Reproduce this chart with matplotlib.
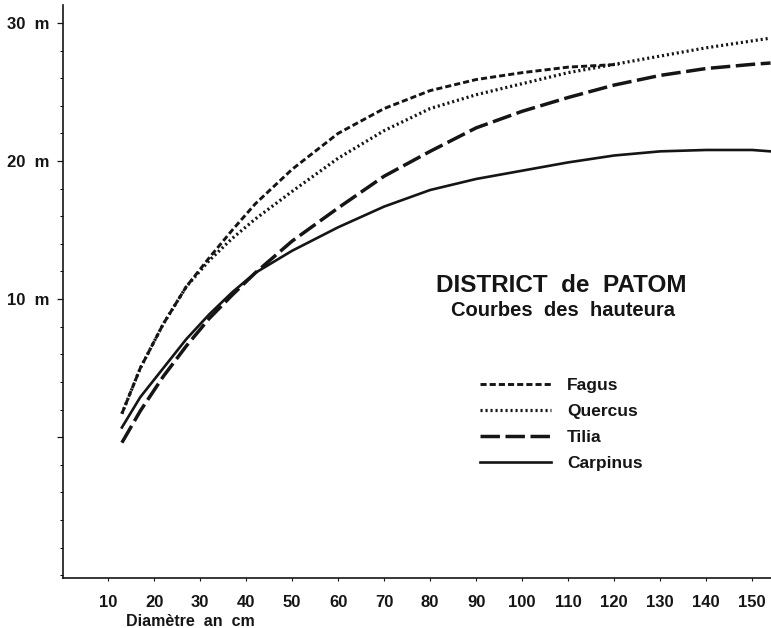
import matplotlib
matplotlib.use("Agg")
import matplotlib.pyplot as plt
from matplotlib.ticker import MultipleLocator, FixedLocator

plt.rcParams["font.family"] = ["Liberation Sans", "DejaVu Sans"]
plt.rcParams["font.weight"] = "bold"
plt.rcParams["lines.scale_dashes"] = False

# diameters (cm) and heights (m)
diam = [13, 17, 22, 27, 32, 37, 42, 50, 60, 70, 80, 90, 100, 110, 120, 130, 140, 150, 154]
fagus_d = [13, 17, 22, 27, 32, 37, 42, 50, 60, 70, 80, 90, 100, 110, 121]
fagus_h = [1.7, 5.0, 8.2, 10.9, 13.0, 15.0, 16.9, 19.4, 22.0, 23.8, 25.1, 25.9, 26.4, 26.8, 27.0]
quercus_h = [1.7, 5.0, 8.2, 10.9, 12.8, 14.4, 15.8, 17.8, 20.2, 22.2, 23.8, 24.8, 25.6, 26.4,
             27.0, 27.6, 28.2, 28.7, 28.9]
tilia_h = [-0.4, 1.9, 4.4, 6.6, 8.6, 10.3, 11.9, 14.2, 16.6, 18.9, 20.7, 22.4, 23.6, 24.6,
           25.5, 26.2, 26.7, 27.0, 27.1]
carpinus_h = [0.7, 2.9, 5.0, 7.1, 8.9, 10.5, 11.9, 13.5, 15.2, 16.7, 17.9, 18.7, 19.3, 19.9,
              20.4, 20.7, 20.8, 20.8, 20.7]

x_ticks = [10, 20, 30, 40, 50, 60, 70, 80, 90, 100, 110, 120, 130, 140, 150]
y_ticks = [0, 10, 20, 30]
y_labels = ["", "10  m", "20  m", "30  m"]

ink = "#151515"
W, H = 771, 628
narrow = ["Liberation Sans Narrow", "Liberation Sans"]

fig = plt.figure(figsize=(W / 100, H / 100), dpi=100)
ax = fig.add_axes([63 / W, 1 - 578 / H, (W - 63) / W, (578 - 5) / H])

l1, = ax.plot(fagus_d, fagus_h, color=ink, lw=2.1, linestyle=(0, (4.4, 2.2)))
l2, = ax.plot(diam, quercus_h, color=ink, lw=2.3, linestyle=(0, (1.5, 2.1)))
l3, = ax.plot(diam, tilia_h, color=ink, lw=2.5, linestyle=(0, (14, 4)))
l4, = ax.plot(diam, carpinus_h, color=ink, lw=1.9, linestyle="-")

ax.set_xlim(0.2, 154.1)
ax.set_ylim(-10.2, 31.3)

for s in ["top", "right"]:
    ax.spines[s].set_visible(False)
for s in ["left", "bottom"]:
    ax.spines[s].set_linewidth(1.2)
    ax.spines[s].set_color(ink)

ax.xaxis.set_major_locator(FixedLocator(x_ticks))
ax.set_xticklabels([str(v) for v in x_ticks], family=narrow)
ax.yaxis.set_major_locator(FixedLocator(y_ticks))
ax.set_yticklabels(y_labels, family=narrow)
ax.yaxis.set_minor_locator(MultipleLocator(2))

ax.tick_params(axis="x", direction="out", length=2.5, width=0.8, pad=10,
               labelsize=12, colors=ink)
ax.tick_params(axis="y", which="major", direction="out", length=4, width=0.9, pad=6,
               labelsize=12, colors=ink)
ax.tick_params(axis="y", which="minor", direction="out", length=2, width=0.7)

fig.text(126 / W, 1 - 621 / H, "Diamètre  an  cm", fontsize=11.5, ha="left", va="center",
         color=ink)
fig.text(561 / W, 1 - 285 / H, "DISTRICT  de  PATOM", fontsize=17.5, ha="center",
         va="center", color=ink)
fig.text(563 / W, 1 - 310 / H, "Courbes  des  hauteura", fontsize=14.5, ha="center",
         va="center", color=ink, fontweight="semibold")

leg = ax.legend([l1, l2, l3, l4], ["Fagus", "Quercus", "Tilia", "Carpinus"],
                loc="upper left", bbox_to_anchor=(480 / W, 1 - 378 / H),
                bbox_transform=fig.transFigure, frameon=False, fontsize=12.5,
                handlelength=4.1, handletextpad=0.9, labelspacing=0.62,
                borderpad=0, borderaxespad=0)
for t in leg.get_texts():
    t.set_color(ink)

fig.savefig("out.png", dpi=100, facecolor="white")
